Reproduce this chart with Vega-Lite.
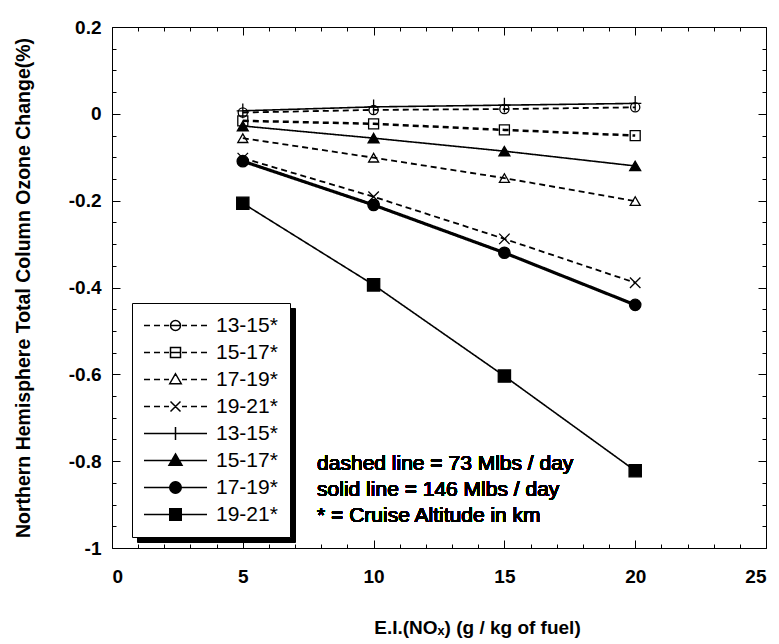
{
  "$schema": "https://vega.github.io/schema/vega-lite/v6.json",
  "autosize": "none",
  "width": 654,
  "height": 521,
  "padding": {"left": 112, "top": 27, "right": 13, "bottom": 96},
  "background": "white",
  "config": {
    "view": {"stroke": "black", "strokeWidth": 1},
    "font": "Liberation Sans",
    "legend": {"symbolOpacity": 1}
  },
  "data": {
    "values": [
      {"series": "dashed 13-15*", "ei": 5, "change": 0.003},
      {"series": "dashed 13-15*", "ei": 10, "change": 0.009},
      {"series": "dashed 13-15*", "ei": 15, "change": 0.011},
      {"series": "dashed 13-15*", "ei": 20, "change": 0.015},
      {"series": "dashed 15-17*", "ei": 5, "change": -0.016},
      {"series": "dashed 15-17*", "ei": 10, "change": -0.023},
      {"series": "dashed 15-17*", "ei": 15, "change": -0.037},
      {"series": "dashed 15-17*", "ei": 20, "change": -0.05},
      {"series": "dashed 17-19*", "ei": 5, "change": -0.056},
      {"series": "dashed 17-19*", "ei": 10, "change": -0.101},
      {"series": "dashed 17-19*", "ei": 15, "change": -0.148},
      {"series": "dashed 17-19*", "ei": 20, "change": -0.201},
      {"series": "dashed 19-21*", "ei": 5, "change": -0.102},
      {"series": "dashed 19-21*", "ei": 10, "change": -0.191},
      {"series": "dashed 19-21*", "ei": 15, "change": -0.288},
      {"series": "dashed 19-21*", "ei": 20, "change": -0.389},
      {"series": "solid 13-15*", "ei": 5, "change": 0.007},
      {"series": "solid 13-15*", "ei": 10, "change": 0.016},
      {"series": "solid 13-15*", "ei": 15, "change": 0.02},
      {"series": "solid 13-15*", "ei": 20, "change": 0.024},
      {"series": "solid 15-17*", "ei": 5, "change": -0.028},
      {"series": "solid 15-17*", "ei": 10, "change": -0.056},
      {"series": "solid 15-17*", "ei": 15, "change": -0.086},
      {"series": "solid 15-17*", "ei": 20, "change": -0.12},
      {"series": "solid 17-19*", "ei": 5, "change": -0.109},
      {"series": "solid 17-19*", "ei": 10, "change": -0.21},
      {"series": "solid 17-19*", "ei": 15, "change": -0.32},
      {"series": "solid 17-19*", "ei": 20, "change": -0.44},
      {"series": "solid 19-21*", "ei": 5, "change": -0.206},
      {"series": "solid 19-21*", "ei": 10, "change": -0.394},
      {"series": "solid 19-21*", "ei": 15, "change": -0.604},
      {"series": "solid 19-21*", "ei": 20, "change": -0.822}
    ]
  },
  "resolve": {
    "scale": {"shape": "independent", "fill": "independent", "size": "independent", "strokeWidth": "independent", "strokeDash": "independent"},
    "axis": {"x": "independent", "y": "independent"}
  },
  "layer": [
    {
      "mark": {"type": "line", "color": "black"},
      "encoding": {
        "x": {"field": "ei", "type": "quantitative", "scale": {"domain": [0, 25], "nice": false, "zero": false},
          "axis": {"orient": "bottom", "values": [0,1,2,3,4,5,6,7,8,9,10,11,12,13,14,15,16,17,18,19,20,21,22,23,24,25],
            "labelExpr": "datum.value % 5 === 0 ? datum.label : ''",
            "tickSize": {"condition": {"test": "datum.value % 5 === 0", "value": -8}, "value": -4},
            "tickColor": "black", "tickWidth": 1, "domain": false, "grid": false,
            "labelFont": "Liberation Sans", "labelFontWeight": "bold", "labelFontSize": 19, "labelColor": "black", "labelPadding": 27,
            "title": "E.I.(NOₓ) (g / kg of fuel)", "titleFont": "Liberation Sans", "titleFontWeight": "bold", "titleFontSize": 19, "titleColor": "black", "titlePadding": 32, "titleX": 365}},
        "y": {"field": "change", "type": "quantitative", "scale": {"domain": [-1, 0.2], "nice": false, "zero": false},
          "axis": {"orient": "left", "values": [-1,-0.95,-0.9,-0.85,-0.8,-0.75,-0.7,-0.65,-0.6,-0.55,-0.5,-0.45,-0.4,-0.35,-0.3,-0.25,-0.2,-0.15,-0.1,-0.05,0,0.05,0.1,0.15,0.2],
            "labelExpr": "indexof([-1,-0.8,-0.6,-0.4,-0.2,0,0.2], datum.value) >= 0 ? '' + datum.value : ''",
            "tickSize": {"condition": {"test": "indexof([-1,-0.8,-0.6,-0.4,-0.2,0,0.2], datum.value) >= 0", "value": -8}, "value": -4},
            "tickColor": "black", "tickWidth": 1, "domain": false, "grid": false,
            "labelFont": "Liberation Sans", "labelFontWeight": "bold", "labelFontSize": 19, "labelColor": "black", "labelPadding": 19,
            "title": "Northern Hemisphere Total Column Ozone Change(%)", "titleFont": "Liberation Sans", "titleFontWeight": "bold", "titleFontSize": 19.5, "titleColor": "black", "titlePadding": 35}},
        "detail": {"field": "series"},
        "strokeDash": {"field": "series", "type": "nominal", "legend": null,
          "scale": {"domain": ["dashed 13-15*","dashed 15-17*","dashed 17-19*","dashed 19-21*","solid 13-15*","solid 15-17*","solid 17-19*","solid 19-21*"],
            "range": [[6,4],[6,4],[6,4],[6,4],[1,0],[1,0],[1,0],[1,0]]}},
        "strokeWidth": {"field": "series", "type": "nominal", "legend": null,
          "scale": {"type": "ordinal", "domain": ["dashed 13-15*","dashed 15-17*","dashed 17-19*","dashed 19-21*","solid 13-15*","solid 15-17*","solid 17-19*","solid 19-21*"],
            "range": [1.8, 2.5, 1.8, 1.8, 1.6, 1.6, 3.2, 1.6]}}
      }
    },
    {
      "mark": {"type": "point", "stroke": "black", "strokeWidth": 1.3, "opacity": 1},
      "encoding": {
        "x": {"field": "ei", "type": "quantitative", "scale": {"domain": [0, 25], "nice": false, "zero": false},
          "axis": {"orient": "top", "values": [0,1,2,3,4,5,6,7,8,9,10,11,12,13,14,15,16,17,18,19,20,21,22,23,24,25],
            "labels": false, "title": null, "domain": false, "grid": false, "tickColor": "black",
            "tickSize": {"condition": {"test": "datum.value % 5 === 0", "value": -8}, "value": -4}}},
        "y": {"field": "change", "type": "quantitative", "scale": {"domain": [-1, 0.2], "nice": false, "zero": false},
          "axis": {"orient": "right", "values": [-1,-0.95,-0.9,-0.85,-0.8,-0.75,-0.7,-0.65,-0.6,-0.55,-0.5,-0.45,-0.4,-0.35,-0.3,-0.25,-0.2,-0.15,-0.1,-0.05,0,0.05,0.1,0.15,0.2],
            "labels": false, "title": null, "domain": false, "grid": false, "tickColor": "black",
            "tickSize": {"condition": {"test": "indexof([-1,-0.8,-0.6,-0.4,-0.2,0,0.2], datum.value) >= 0", "value": -8}, "value": -4}}},
        "shape": {"field": "series", "type": "nominal", "legend": null,
          "scale": {"domain": ["dashed 13-15*","dashed 15-17*","dashed 17-19*","dashed 19-21*","solid 13-15*","solid 15-17*","solid 17-19*","solid 19-21*"],
            "range": ["circle", "square", "triangle-up", "M-1,-1L1,1M-1,1L1,-1", "M-1,0L1,0M0,-1.2L0,1.2", "triangle-up", "circle", "square"]}},
        "fill": {"field": "series", "type": "nominal", "legend": null,
          "scale": {"domain": ["dashed 13-15*","dashed 15-17*","dashed 17-19*","dashed 19-21*","solid 13-15*","solid 15-17*","solid 17-19*","solid 19-21*"],
            "range": ["transparent","transparent","transparent","transparent","transparent","black","black","black"]}},
        "size": {"field": "series", "type": "nominal", "legend": null,
          "scale": {"type": "ordinal", "domain": ["dashed 13-15*","dashed 15-17*","dashed 17-19*","dashed 19-21*","solid 13-15*","solid 15-17*","solid 17-19*","solid 19-21*"],
            "range": [85, 100, 100, 110, 150, 120, 130, 150]}}
      }
    },
    {
      "mark": {"type": "point", "stroke": "black", "opacity": 0},
      "encoding": {
        "x": {"field": "ei", "type": "quantitative", "axis": null},
        "y": {"field": "change", "type": "quantitative", "axis": null},
        "shape": {"field": "series", "type": "nominal",
          "scale": {"domain": ["dashed 13-15*","dashed 15-17*","dashed 17-19*","dashed 19-21*","solid 13-15*","solid 15-17*","solid 17-19*","solid 19-21*"],
            "range": [
              "M-6.3,0H-5.1M-4.3,0H-3.1M-2.3,0H-1.3M1.3,0H2.3M3.1,0H4.3M5.1,0H6.3M-1,0H1M-1,0A1,1,0,1,1,1,0A1,1,0,1,1,-1,0Z",
              "M-6.3,0H-5.1M-4.3,0H-3.1M-2.3,0H-1.3M1.3,0H2.3M3.1,0H4.3M5.1,0H6.3M-1,0H1M-1,-1H1V1H-1Z",
              "M-6.3,0H-5.1M-4.3,0H-3.1M-2.3,0H-1.3M1.3,0H2.3M3.1,0H4.3M5.1,0H6.3M0,-1.15L1.15,0.85H-1.15Z",
              "M-6.3,0H-5.1M-4.3,0H-3.1M-2.3,0H-1.3M1.3,0H2.3M3.1,0H4.3M5.1,0H6.3M-1,-1L1,1M-1,1L1,-1",
              "M-6.3,0H6.3M0,-1.3V1.3",
              "M-6.3,0H6.3M0,-1.3L1.3,0.95H-1.3Z",
              "M-6.3,0H6.3M-1.15,0A1.15,1.15,0,1,1,1.15,0A1.15,1.15,0,1,1,-1.15,0Z",
              "M-6.3,0H6.3M-1.15,-1.15H1.15V1.15H-1.15Z"
            ]},
          "legend": {"orient": "none", "legendX": 25, "legendY": 281, "title": null, "symbolSize": 100, "symbolOffset": 21, "labelOffset": 92, "zindex": 1,
            "labelExpr": "'\u00a0\u00a0\u00a0\u00a0\u00a0\u00a0\u00a0\u00a0\u00a0\u00a0\u2009'", "labelFont": "Liberation Sans", "labelFontSize": 21, "labelColor": "black",
            "strokeColor": "black", "fillColor": "black", "padding": 12, "rowPadding": 5,
            "encoding": {"symbols": {"update": {"stroke": {"value": "black"}, "strokeWidth": {"value": 1.5}}}}}},
        "fill": {"field": "series", "type": "nominal",
          "scale": {"domain": ["dashed 13-15*","dashed 15-17*","dashed 17-19*","dashed 19-21*","solid 13-15*","solid 15-17*","solid 17-19*","solid 19-21*"],
            "range": ["black","black","black","black","black","black","black","black"]},
          "legend": {"orient": "none", "legendX": 25, "legendY": 281, "title": null, "symbolSize": 100, "symbolOffset": 21, "labelOffset": 92, "zindex": 1,
            "labelExpr": "'\u00a0\u00a0\u00a0\u00a0\u00a0\u00a0\u00a0\u00a0\u00a0\u00a0\u2009'", "labelFont": "Liberation Sans", "labelFontSize": 21, "labelColor": "black",
            "strokeColor": "black", "fillColor": "black", "padding": 12, "rowPadding": 5,
            "encoding": {"symbols": {"update": {"stroke": {"value": "black"}, "strokeWidth": {"value": 1.5}}}}}}
      }
    },
    {
      "mark": {"type": "point", "stroke": "black", "opacity": 0},
      "encoding": {
        "x": {"field": "ei", "type": "quantitative", "axis": null},
        "y": {"field": "change", "type": "quantitative", "axis": null},
        "shape": {"field": "series", "type": "nominal",
          "scale": {"domain": ["dashed 13-15*","dashed 15-17*","dashed 17-19*","dashed 19-21*","solid 13-15*","solid 15-17*","solid 17-19*","solid 19-21*"],
            "range": [
              "M-6.3,0H-5.1M-4.3,0H-3.1M-2.3,0H-1.3M1.3,0H2.3M3.1,0H4.3M5.1,0H6.3M-1,0H1M-1,0A1,1,0,1,1,1,0A1,1,0,1,1,-1,0Z",
              "M-6.3,0H-5.1M-4.3,0H-3.1M-2.3,0H-1.3M1.3,0H2.3M3.1,0H4.3M5.1,0H6.3M-1,0H1M-1,-1H1V1H-1Z",
              "M-6.3,0H-5.1M-4.3,0H-3.1M-2.3,0H-1.3M1.3,0H2.3M3.1,0H4.3M5.1,0H6.3M0,-1.15L1.15,0.85H-1.15Z",
              "M-6.3,0H-5.1M-4.3,0H-3.1M-2.3,0H-1.3M1.3,0H2.3M3.1,0H4.3M5.1,0H6.3M-1,-1L1,1M-1,1L1,-1",
              "M-6.3,0H6.3M0,-1.3V1.3",
              "M-6.3,0H6.3M0,-1.3L1.3,0.95H-1.3Z",
              "M-6.3,0H6.3M-1.15,0A1.15,1.15,0,1,1,1.15,0A1.15,1.15,0,1,1,-1.15,0Z",
              "M-6.3,0H6.3M-1.15,-1.15H1.15V1.15H-1.15Z"
            ]},
          "legend": {"orient": "none", "legendX": 20, "legendY": 276, "title": null, "symbolSize": 100, "symbolOffset": 21, "labelOffset": 30, "zindex": 2,
            "labelExpr": "split(datum.label, ' ')[1]", "labelFont": "Liberation Sans", "labelFontSize": 21, "labelColor": "black",
            "strokeColor": "black", "fillColor": "white", "padding": 12, "rowPadding": 5,
            "encoding": {"symbols": {"update": {"stroke": {"value": "black"}, "strokeWidth": {"condition": [{"test": "datum.value === 'solid 17-19*'", "value": 3.2}, {"test": "datum.value === 'dashed 15-17*'", "value": 2.4}], "value": 1.5}}}}}},
        "fill": {"field": "series", "type": "nominal",
          "scale": {"domain": ["dashed 13-15*","dashed 15-17*","dashed 17-19*","dashed 19-21*","solid 13-15*","solid 15-17*","solid 17-19*","solid 19-21*"],
            "range": ["transparent","transparent","transparent","transparent","transparent","black","black","black"]},
          "legend": {"orient": "none", "legendX": 20, "legendY": 276, "title": null, "symbolSize": 100, "symbolOffset": 21, "labelOffset": 30, "zindex": 2,
            "labelExpr": "split(datum.label, ' ')[1]", "labelFont": "Liberation Sans", "labelFontSize": 21, "labelColor": "black",
            "strokeColor": "black", "fillColor": "white", "padding": 12, "rowPadding": 5,
            "encoding": {"symbols": {"update": {"stroke": {"value": "black"}, "strokeWidth": {"condition": [{"test": "datum.value === 'solid 17-19*'", "value": 3.2}, {"test": "datum.value === 'dashed 15-17*'", "value": 2.4}], "value": 1.5}}}}}}
      }
    },
    {
      "mark": {"type": "text", "align": "left", "baseline": "alphabetic", "font": "Liberation Sans", "fontWeight": "normal", "fontSize": 21, "color": "black", "lineBreak": "\n", "lineHeight": 26, "text": "dashed line = 73 Mlbs / day\nsolid line = 146 Mlbs / day\n* = Cruise Altitude in km"},
      "encoding": {
        "x": {"datum": 7.84, "type": "quantitative", "axis": null},
        "y": {"datum": -0.821, "type": "quantitative", "axis": null}
      }
    }
  ]
}
